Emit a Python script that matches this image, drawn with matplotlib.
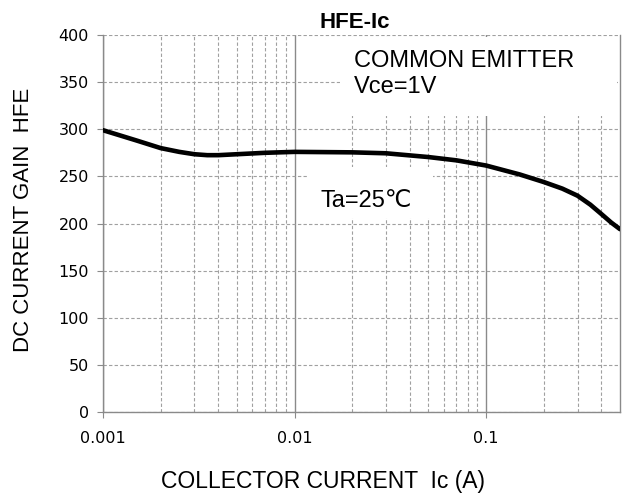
import matplotlib.pyplot as plt
from matplotlib.patches import Rectangle
from matplotlib.ticker import FixedLocator, NullFormatter

# =====================
# DATA
# =====================
ic = [0.001, 0.0015, 0.002, 0.0025, 0.003, 0.0035, 0.004, 0.005, 0.007,
      0.01, 0.02, 0.03, 0.05, 0.07, 0.1, 0.15, 0.2, 0.25, 0.3, 0.35,
      0.4, 0.45, 0.5]
hfe = [299, 288, 280, 276, 273.5, 272.5, 272.5, 273.5, 275,
       276, 275.5, 274.5, 270.5, 267, 261.5, 252, 244, 237, 229.5, 220,
       210, 201, 194]

x_ticks = [0.001, 0.01, 0.1]
x_tick_labels = ["0.001", "0.01", "0.1"]
y_ticks = list(range(0, 401, 50))

title = "HFE-Ic"
x_label = "COLLECTOR CURRENT  Ic (A)"
y_label = "DC CURRENT GAIN  HFE"
note_temp = "Ta=25\u2103"

# =====================
# FIGURE
# =====================
TXT = ["Liberation Sans", "DejaVu Sans"]
GRID = "#a0a0a0"

fig = plt.figure(figsize=(6.22, 4.96), dpi=100)
fig.subplots_adjust(left=103 / 622, right=620 / 622,
                    top=1 - 35 / 496, bottom=1 - 412 / 496)
ax = fig.add_subplot(111)

ax.set_xscale("log")
ax.set_xlim(0.001, 0.5)
ax.set_ylim(0, 400)

ax.plot(ic, hfe, color="black", lw=3.3, solid_capstyle="round",
        solid_joinstyle="round", zorder=4)

# grid
ax.xaxis.set_major_locator(FixedLocator(x_ticks))
ax.set_xticklabels(x_tick_labels)
minors = [m * d for d in (0.001, 0.01, 0.1) for m in range(2, 10) if m * d < 0.5]
ax.xaxis.set_minor_locator(FixedLocator(minors))
ax.xaxis.set_minor_formatter(NullFormatter())
ax.set_yticks(y_ticks)

ax.grid(True, which="major", axis="x", color="#8a8a8a", lw=1.0, ls="-")
ax.grid(True, which="minor", axis="x", color=GRID, lw=0.8, ls=(0, (3, 2)))
ax.grid(True, which="major", axis="y", color=GRID, lw=0.8, ls=(0, (3, 2)))
ax.tick_params(axis="x", which="minor", length=0)
ax.tick_params(axis="both", which="major", length=4, color="#8a8a8a",
               labelsize=11.5, labelcolor="black")
ax.tick_params(axis="x", which="major", pad=10)
ax.tick_params(axis="y", which="major", pad=6)

for side in ("left", "bottom", "right"):
    ax.spines[side].set_color("#8a8a8a")
    ax.spines[side].set_linewidth(1.0)
ax.spines["top"].set_visible(False)

# white boxes that hide the grid behind the notes
ax.add_patch(Rectangle((0.458, 0.785), 0.536, 0.21, transform=ax.transAxes,
                       facecolor="white", edgecolor="none", zorder=2.5))
ax.add_patch(Rectangle((0.395, 0.515), 0.243, 0.135, transform=ax.transAxes,
                       facecolor="white", edgecolor="none", zorder=2.5))

ax.text(0.486, 0.915, "COMMON EMITTER", transform=ax.transAxes,
        family=TXT, fontsize=17, va="baseline", ha="left", zorder=5)
ax.text(0.486, 0.846, "Vce=1V", transform=ax.transAxes,
        family=TXT, fontsize=17, va="baseline", ha="left", zorder=5)
ax.text(0.42, 0.544, note_temp, transform=ax.transAxes,
        family=TXT, fontsize=17, va="baseline", ha="left", zorder=5)

ax.set_title(title, family=TXT, fontsize=16, fontweight="bold", pad=5, x=0.486)
ax.set_xlabel(x_label, family=TXT, fontsize=16.5)
ax.set_ylabel(y_label, family=TXT, fontsize=16)
ax.xaxis.set_label_coords(0.426, -0.155)
ax.yaxis.set_label_coords(-0.134, 0.509)

fig.savefig("out.png", dpi=100)
